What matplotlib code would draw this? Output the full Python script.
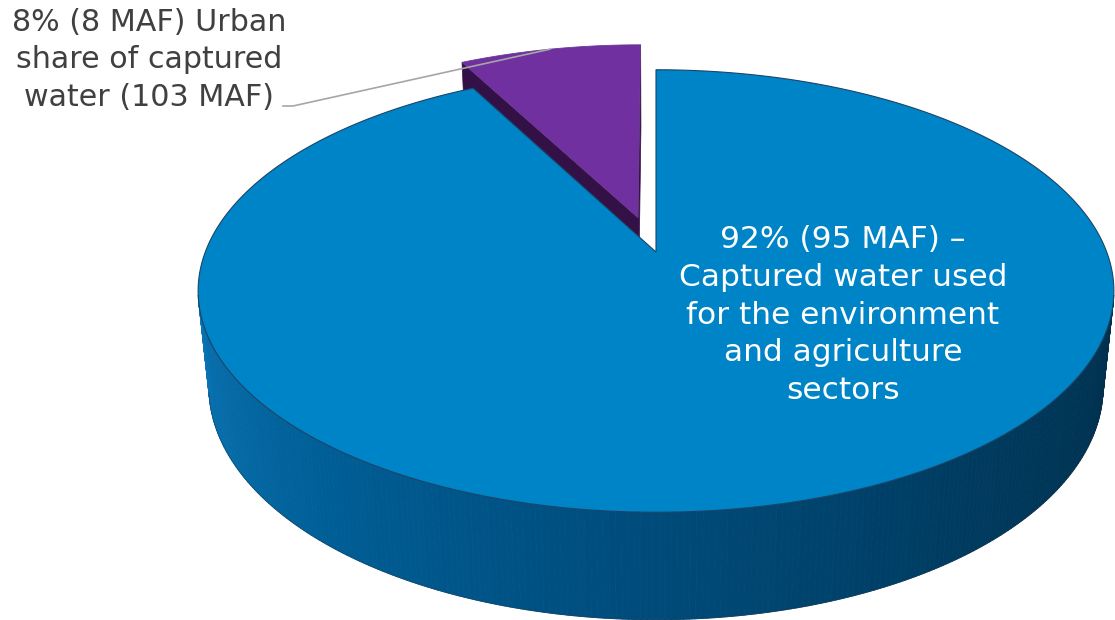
"""3D exploded pie: urban share of captured water (MAF)."""
import numpy as np
import matplotlib.pyplot as plt
from matplotlib.collections import PolyCollection
from matplotlib.colors import LinearSegmentedColormap

# Slices in drawing order (clockwise from 12 o'clock)
sectors = ["Environment and agriculture", "Urban"]
maf = [95, 8]
explode = [0.0, 0.17]
slice_labels = [
    "92% (95 MAF) –\nCaptured water used\nfor the environment\nand agriculture\nsectors",
    "8% (8 MAF) Urban\nshare of captured\nwater (103 MAF)",
]
top_colors = ["#0084C8", "#7030A0"]
side_colors = ["#00486F", "#331046"]

# Camera / projection settings (pixel space)
CX, CY = 656, 252
FOCAL, DIST = 2249, 4.99
ELEV = np.radians(28.4)
THICK = 0.245
S, C = np.sin(ELEV), np.cos(ELEV)


def proj(X, Y, Z):
    X, Y, Z = np.broadcast_arrays(np.asarray(X, float), np.asarray(Y, float), np.asarray(Z, float))
    d = DIST + Y * C - Z * S
    return CX + FOCAL * X / d, CY - FOCAL * (Y * S + Z * C) / d


def xy(th, off, r=1.0):
    t = np.radians(th)
    return off[0] + r * np.sin(t), off[1] + r * np.cos(t)


fig = plt.figure(figsize=(11.15, 6.2), dpi=100)
ax = fig.add_axes([0, 0, 1, 1])
ax.set_xlim(0, 1115)
ax.set_ylim(620, 0)
ax.axis("off")

total = sum(maf)
bounds = np.concatenate([[0], np.cumsum(maf) / total * 360])
offsets = []
for i in range(len(maf)):
    mid = np.radians((bounds[i] + bounds[i + 1]) / 2)
    offsets.append((explode[i] * np.sin(mid), explode[i] * np.cos(mid)))

# side wall shading, dark on the right -> lighter on the left
wall_cmap = LinearSegmentedColormap.from_list(
    "wall", ["#002F4C", "#003A5E", "#004B7A", "#005E96", "#0A74B4"])

# back slice first: urban (purple)
i = 1
th0, th1 = bounds[i], bounds[i + 1]
off = offsets[i]
for th in (th0, th1):
    rx, ry = xy(th, off)
    px, py = proj([off[0], rx, rx, off[0]], [off[1], ry, ry, off[1]], [0, 0, -THICK, -THICK])
    ax.fill(px, py, color=side_colors[i], lw=0.5, ec=side_colors[i])
ths = np.linspace(th0, th1, 120)
X, Y = xy(ths, off)
px, py = proj(np.r_[off[0], X], np.r_[off[1], Y], 0)
ax.fill(px, py, color=top_colors[i], lw=0.6, ec="#6a3a90")

# front slice: blue
i = 0
th0, th1 = bounds[i], bounds[i + 1]
off = offsets[i]
lim = np.degrees(np.arccos(-1 / (DIST * C)))
wth = np.linspace(lim - 2, 360 - lim + 2, 240)
quads, cols = [], []
for a, b in zip(wth[:-1], wth[1:]):
    xa, ya = xy(a, off)
    xb, yb = xy(b, off)
    qx, qy = proj([xa, xb, xb, xa], [ya, yb, yb, ya], [0, 0, -THICK, -THICK])
    quads.append(np.column_stack([qx, qy]))
    cols.append(wall_cmap((a - wth[0]) / (wth[-1] - wth[0])))
ax.add_collection(PolyCollection(quads, facecolors=cols, edgecolors=cols, linewidths=0.6))
# bottom rim outline
bx, by = xy(wth, off)
px, py = proj(bx, by, -THICK)
ax.plot(px, py, color="#1d3346", lw=0.6, alpha=0.5)

ths = np.linspace(th0, th1, 400)
X, Y = xy(ths, off)
px, py = proj(np.r_[off[0], X], np.r_[off[1], Y], 0)
ax.fill(px, py, color=top_colors[i], lw=0.8, ec="#1b4466")

# labels
ax.text(843, 315, slice_labels[0], color="white", fontsize=22.5, ha="center", va="center",
        linespacing=1.38, family="DejaVu Sans")
ax.text(149, 60, slice_labels[1], color="#404040", fontsize=21.7, ha="center", va="center",
        linespacing=1.36, family="DejaVu Sans")

# leader to the urban slice
mid = (bounds[1] + bounds[2]) / 2
lx, ly = xy(mid, offsets[1])
ex, ey = proj(lx, ly, 0)
ax.plot([283, 293, float(ex)], [106, 106, float(ey)], color="#A6A6A6", lw=1.2)

fig.savefig("out.png", dpi=100, facecolor="white")
